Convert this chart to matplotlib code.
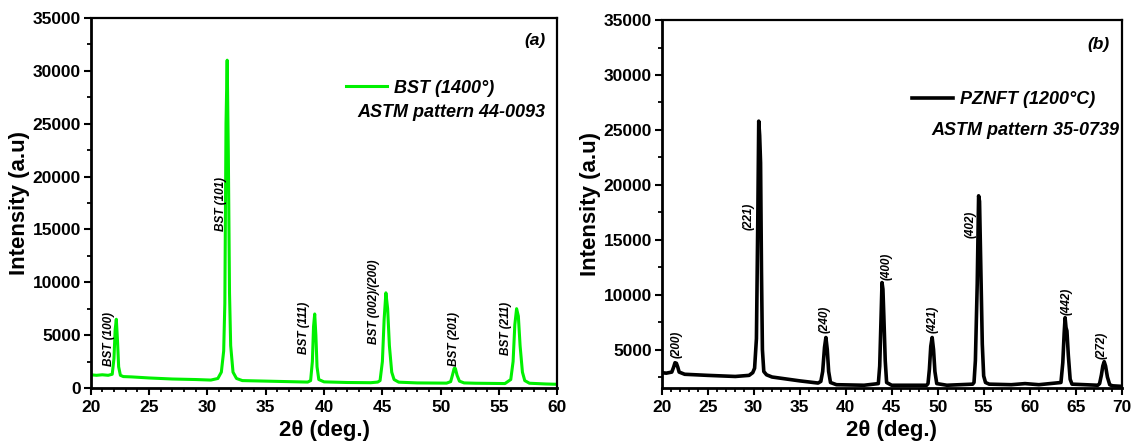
"""
XRD patterns: BST (1400°) and PZNFT (1200°C)
"""
import matplotlib
matplotlib.use("Agg")
import matplotlib.pyplot as plt
from matplotlib.ticker import MultipleLocator

plt.rcParams['font.family'] = ['Liberation Sans', 'DejaVu Sans']
plt.rcParams['font.weight'] = 'bold'

# (a) BST, points
bst_2theta = [20.0, 20.5, 21.0, 21.5, 21.85, 22.0, 22.1, 22.2, 22.3, 22.4, 22.55, 22.8,
              23.5, 25.0, 27.0, 29.0, 30.3, 30.9, 31.2, 31.4, 31.5, 31.6, 31.7, 31.8,
              31.9, 32.0, 32.2, 32.5, 33.0, 35.0, 37.0, 38.6, 38.85, 39.0, 39.1, 39.2,
              39.3, 39.4, 39.55, 40.0, 42.0, 44.0, 44.6, 44.8, 45.0, 45.15, 45.3, 45.45,
              45.6, 45.8, 46.0, 46.4, 48.0, 50.5, 50.85, 51.0, 51.15, 51.25, 51.4, 51.6,
              52.0, 53.0, 55.5, 56.0, 56.2, 56.35, 56.5, 56.65, 56.8, 57.0, 57.2, 57.6,
              59.0, 60.0]
bst_int = [1250, 1200, 1250, 1200, 1300, 2800, 5500, 6500, 4500, 2000, 1200, 1080,
           1050, 950, 850, 800, 750, 900, 1500, 3500, 8000, 25000, 31000, 22000,
           9000, 4000, 1500, 900, 700, 650, 600, 560, 700, 2500, 5800, 7000,
           5000, 2000, 800, 580, 520, 500, 560, 700, 2500, 6500, 9000, 7500,
           4000, 1500, 800, 550, 480, 460, 600, 1200, 1850, 1850, 1200, 650,
           480, 450, 420, 800, 2500, 6000, 7500, 6800, 4000, 1500, 700, 450,
           380, 350]
bst_labels = ["BST (100)", "BST (101)", "BST (111)", "BST (002)/(200)", "BST (201)", "BST (211)"]
bst_label_x = [21.6, 31.2, 38.3, 44.3, 51.1, 55.6]
bst_label_y = [2070, 14800, 3200, 4140, 2070, 3090]

# (b) PZNFT
pz_2theta = [20.0, 20.5, 21.1, 21.3, 21.45, 21.6, 21.75, 21.9, 22.5, 25.0, 28.0, 29.5,
             29.9, 30.1, 30.3, 30.45, 30.55, 30.65, 30.75, 30.85, 30.95, 31.1, 31.4, 32.0,
             35.0, 37.0, 37.3, 37.5, 37.7, 37.85, 38.0, 38.15, 38.35, 39.0, 42.0, 43.55,
             43.7, 43.85, 43.95, 44.05, 44.15, 44.3, 44.45, 45.0, 48.8, 48.95, 49.1, 49.25,
             49.4, 49.55, 49.7, 49.9, 51.0, 53.8, 53.95, 54.1, 54.3, 54.45, 54.55, 54.7,
             54.85, 55.0, 55.2, 55.6, 58.0, 59.5, 61.0, 63.4, 63.6, 63.75, 63.85, 63.95,
             64.05, 64.2, 64.4, 64.6, 67.4, 67.6, 67.8, 67.95, 68.1, 68.25, 68.45, 68.7,
             69.0, 70.0]
pz_int = [2900, 2850, 2950, 3400, 3800, 3750, 3400, 2950, 2750, 2650, 2550, 2650,
          2900, 3300, 6000, 17000, 25800, 24500, 22000, 12000, 5000, 3000, 2700, 2500,
          2150, 1950, 2100, 3000, 5200, 6100, 5000, 3000, 2000, 1800, 1750, 1900,
          3500, 8000, 11100, 10500, 8000, 4000, 2000, 1750, 1750, 1900, 3200, 5300,
          6100, 5000, 3000, 1900, 1750, 1850, 2000, 4000, 11000, 19000, 18500, 12000,
          5500, 2600, 2000, 1850, 1800, 1900, 1800, 2000, 3800, 6500, 7900, 7000,
          6700, 4500, 2300, 1850, 1750, 1900, 2700, 3500, 3900, 3500, 2500, 1800,
          1700, 1650]
pz_labels = ["(200)", "(221)", "(240)", "(400)", "(421)", "(402)", "(442)", "(272)"]
pz_label_x = [21.65, 29.5, 37.7, 44.4, 49.5, 53.6, 64.0, 67.8]
pz_label_y = [4250, 15870, 6500, 11300, 6500, 15120, 8160, 4100]


def style_axis(ax, xlim, ylim, xstep):
    ax.set_xlim(xlim)
    ax.set_ylim(ylim)
    ax.xaxis.set_major_locator(MultipleLocator(xstep))
    ax.xaxis.set_minor_locator(MultipleLocator(1))
    ax.yaxis.set_major_locator(MultipleLocator(5000))
    ax.yaxis.set_minor_locator(MultipleLocator(2500))
    ax.tick_params(which='major', direction='out', length=5, width=1.5, labelsize=12.5)
    ax.tick_params(which='minor', direction='out', length=3, width=1.3)
    ax.tick_params(axis='y', which='major', pad=2)
    for lab in ax.get_xticklabels() + ax.get_yticklabels():
        lab.set_fontweight('bold')
    for side in ['left', 'bottom']:
        ax.spines[side].set_linewidth(2)
    for side in ['top', 'right']:
        ax.spines[side].set_linewidth(1.6)
    ax.set_xlabel("2θ (deg.)", fontsize=16, fontweight='bold', labelpad=4)
    ax.set_ylabel("Intensity (a.u)", fontsize=16, fontweight='bold', labelpad=2)


def main():
    fig = plt.figure(figsize=(11.33, 4.47), dpi=100)
    ax1 = fig.add_axes([0.080, 0.132, 0.412, 0.828])
    ax2 = fig.add_axes([0.584, 0.132, 0.406, 0.823])

    # (a)
    ax1.plot(bst_2theta, bst_int, color='#00f000', lw=2.2, label="BST (1400°)")
    style_axis(ax1, (20, 60), (0, 35000), 5)
    for t, x, y in zip(bst_labels, bst_label_x, bst_label_y):
        ax1.text(x, y, t, rotation=90, ha='center', va='bottom', fontsize=8.5,
                 fontweight='bold', style='italic')
    ax1.legend(loc='center right', bbox_to_anchor=(0.885, 0.81), frameon=False,
               handlelength=2.3, handletextpad=0.4, borderpad=0,
               prop={'size': 13, 'weight': 'bold', 'style': 'italic'})
    ax1.text(0.974, 0.743, "ASTM pattern 44-0093", transform=ax1.transAxes, ha='right',
             va='center', fontsize=13, fontweight='bold', style='italic')
    ax1.text(0.974, 0.94, "(a)", transform=ax1.transAxes, ha='right', va='center',
             fontsize=12.5, fontweight='bold', style='italic')

    # (b)
    ax2.plot(pz_2theta, pz_int, color='black', lw=2.6, label="PZNFT (1200°C)")
    style_axis(ax2, (20, 70), (1500, 35000), 5)
    for t, x, y in zip(pz_labels, pz_label_x, pz_label_y):
        ax2.text(x, y, t, rotation=90, ha='center', va='bottom', fontsize=8.5,
                 fontweight='bold', style='italic')
    ax2.legend(loc='center right', bbox_to_anchor=(0.963, 0.783), frameon=False,
               handlelength=2.3, handletextpad=0.4, borderpad=0,
               prop={'size': 13, 'weight': 'bold', 'style': 'italic'})
    ax2.text(0.996, 0.701, "ASTM pattern 35-0739", transform=ax2.transAxes, ha='right',
             va='center', fontsize=13, fontweight='bold', style='italic')
    ax2.text(0.974, 0.935, "(b)", transform=ax2.transAxes, ha='right', va='center',
             fontsize=12.5, fontweight='bold', style='italic')

    plt.savefig("out.png", dpi=100)


if __name__ == "__main__":
    main()
